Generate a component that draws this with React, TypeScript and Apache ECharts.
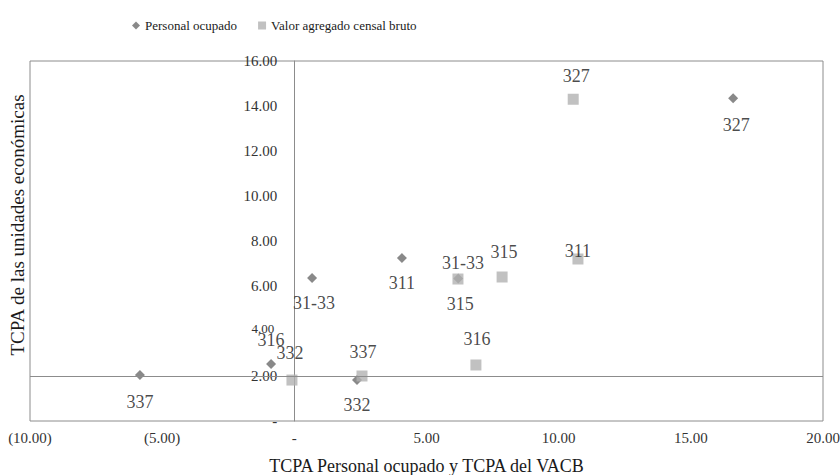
import React, { useEffect, useRef } from "react";
import * as echarts from "echarts";

// ---- Data ----
const sectors = ["311", "315", "316", "31-33", "327", "332", "337"];
const personalX = [4.07, 6.2, -0.88, 0.67, 16.6, 2.37, -5.84];
const personalY = [7.24, 6.33, 2.53, 6.36, 14.35, 1.82, 2.04];
const vacbX = [10.73, 7.86, 6.87, 6.19, 10.55, -0.09, 2.56];
const vacbY = [7.2, 6.4, 2.49, 6.31, 14.3, 1.82, 2.0];
const xTicks = { min: -10, max: 20, interval: 5 };
const yTicks = { min: 0, max: 16, interval: 2 };
const refLineY = 2;

const seriesNames = ["Personal ocupado", "Valor agregado censal bruto"];
const xTitle = "TCPA Personal ocupado y TCPA del VACB";
const yTitle = "TCPA de las unidades económicas";

// ---- Label placement (style, px offsets from the mark) ----
const personalLabelOffsets = [[0, 25], [2, 25], [0, -24], [2, 25], [3, 27], [0, 25], [0, 27]];
const vacbLabelOffsets = [[0, -8], [2, -25], [1, -26], [5, -16], [3, -23], [-2, -27], [1, -24]];

const FONT = "'Liberation Serif', 'Times New Roman', serif";

const GRID_LEFT = 30;
const GRID_RIGHT = 17;
const CHART_W = 840;

const fmtX = (v: number) => {
  if (v === 0) return "-";
  const s = Math.abs(v).toFixed(2);
  return v < 0 ? `(${s})` : s;
};
const fmtY = (v: number) => {
  if (v === 0) return "-";
  if (v === 4) return `{s|${v.toFixed(2)}}`;
  return v.toFixed(2);
};

export default function App() {
  const ref = useRef<HTMLDivElement>(null);

  useEffect(() => {
    if (!ref.current) return;
    const chart = echarts.init(ref.current, undefined, { renderer: "svg" });

    const plotW = CHART_W - GRID_LEFT - GRID_RIGHT;
    const zeroOffset = ((0 - xTicks.min) / (xTicks.max - xTicks.min)) * plotW;

    const labelBase = {
      show: true,
      position: "inside" as const,
      formatter: "{b}",
      color: "#1a1a1a",
      fontFamily: FONT,
      fontSize: 18,
    };

    const personalData = sectors.map((s, i) => ({
      name: s,
      value: [personalX[i], personalY[i]],
      label: { offset: personalLabelOffsets[i] },
    }));
    const vacbData = sectors.map((s, i) => ({
      name: s,
      value: [vacbX[i], vacbY[i]],
      label: { offset: vacbLabelOffsets[i] },
    }));

    chart.setOption({
      animation: false,
      backgroundColor: "#ffffff",
      textStyle: { fontFamily: FONT },
      legend: {
        left: 127,
        top: 14,
        itemWidth: 8,
        itemHeight: 8,
        itemGap: 21,
        textStyle: { fontFamily: FONT, fontSize: 13, color: "#1a1a1a" },
        data: [
          { name: seriesNames[0], icon: "diamond" },
          { name: seriesNames[1], icon: "rect" },
        ],
      },
      grid: {
        left: GRID_LEFT,
        right: GRID_RIGHT,
        top: 61,
        bottom: 54,
        containLabel: false,
        outerBoundsMode: "none",
        show: true,
        borderColor: "#8c8c8c",
        borderWidth: 1,
        backgroundColor: "transparent",
      },
      xAxis: {
        type: "value",
        min: xTicks.min,
        max: xTicks.max,
        interval: xTicks.interval,
        position: "bottom",
        axisLine: { show: false, onZero: false },
        axisTick: { show: false },
        splitLine: { show: false },
        axisLabel: {
          formatter: fmtX,
          fontFamily: FONT,
          fontSize: 15,
          color: "#333333",
          margin: 9,
        },
        name: xTitle,
        nameLocation: "middle",
        nameGap: 36,
        nameTextStyle: { fontFamily: FONT, fontSize: 18, color: "#1a1a1a" },
      },
      yAxis: {
        type: "value",
        min: yTicks.min,
        max: yTicks.max,
        interval: yTicks.interval,
        position: "left",
        offset: -zeroOffset,
        axisLine: { show: true, onZero: false, lineStyle: { color: "#8c8c8c", width: 1 } },
        axisTick: { show: false },
        splitLine: { show: false },
        axisLabel: {
          formatter: fmtY,
          fontFamily: FONT,
          fontSize: 15,
          color: "#333333",
          margin: 17,
          rich: {
            s: { fontFamily: FONT, fontSize: 13, color: "#333333", padding: [0, 3, 5, 0] },
          },
        },
      },
      graphic: [
        {
          type: "text",
          x: 17,
          y: 225,
          rotation: Math.PI / 2,
          style: {
            text: yTitle,
            fontFamily: FONT,
            fontSize: 19,
            fill: "#1a1a1a",
            align: "center",
            verticalAlign: "middle",
          },
        },
      ],
      series: [
        {
          name: seriesNames[0],
          type: "scatter",
          symbol: "diamond",
          symbolSize: 10,
          itemStyle: { color: "#6b6b6b" },
          label: labelBase,
          data: personalData,
          z: 2,
          markLine: {
            silent: true,
            symbol: "none",
            label: { show: false },
            lineStyle: { color: "#8c8c8c", width: 1, type: "solid" },
            data: [{ yAxis: refLineY }],
          },
        },
        {
          name: seriesNames[1],
          type: "scatter",
          symbol: "rect",
          symbolSize: 11,
          itemStyle: { color: "#b2b2b2" },
          label: labelBase,
          data: vacbData,
          z: 3,
        },
      ],
    });

    return () => chart.dispose();
  }, []);

  return (
    <div
      ref={ref}
      style={{ position: "fixed", left: 0, top: 0, width: 840, height: 475, background: "#fff" }}
    />
  );
}
